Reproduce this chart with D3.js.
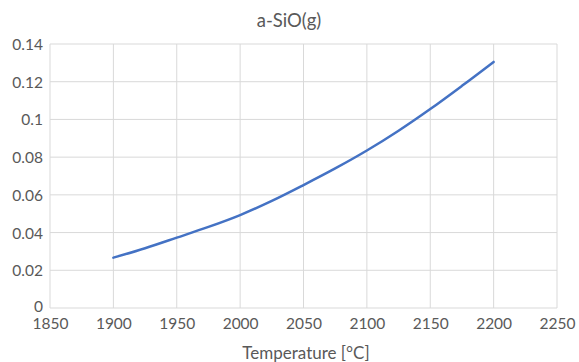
<!DOCTYPE html>
<html>
<head>
    <meta charset="utf-8" />
    <script src="https://cdn.jsdelivr.net/npm/d3@7"></script>
    <style>
        html, body { margin: 0; padding: 0; background: #fff; }
        text { font-family: Lato, "Open Sans", sans-serif; fill: #595959; }
    </style>
</head>
<body>
    <div id="svg-canvas"></div>
    <script>
        var temps = [1900, 1925, 1950, 1975, 2000, 2025, 2050, 2075, 2100, 2125, 2150, 2175, 2200];
        var pressure = [0.0267, 0.0317, 0.0373, 0.0430, 0.0493, 0.0568, 0.0652, 0.0740, 0.0835, 0.0940, 0.1055, 0.1178, 0.1305];
        var xTicks = [1850, 1900, 1950, 2000, 2050, 2100, 2150, 2200, 2250];
        var yTicks = [0, 0.02, 0.04, 0.06, 0.08, 0.1, 0.12, 0.14];

        var W = 579, H = 362;
        var margin = { left: 50, right: 22, top: 44, bottom: 54 };

        var svg = d3.select('#svg-canvas').append('svg')
            .attr('width', W)
            .attr('height', H);

        var x = d3.scaleLinear().domain([1850, 2250]).range([margin.left, W - margin.right]);
        var y = d3.scaleLinear().domain([0, 0.14]).range([H - margin.bottom, margin.top]);

        // grid
        svg.append('g')
            .selectAll('line.h')
            .data(yTicks)
            .enter().append('line')
            .attr('x1', x(1850)).attr('x2', x(2250))
            .attr('y1', d => y(d)).attr('y2', d => y(d))
            .attr('stroke', '#d9d9d9').attr('stroke-width', 1);

        svg.append('g')
            .selectAll('line.v')
            .data(xTicks)
            .enter().append('line')
            .attr('x1', d => x(d)).attr('x2', d => x(d))
            .attr('y1', y(0)).attr('y2', y(0.14))
            .attr('stroke', '#d9d9d9').attr('stroke-width', 1);

        var axisX = svg.append('g')
            .attr('transform', `translate(0, ${y(0)})`)
            .call(d3.axisBottom(x).tickValues(xTicks).tickSize(0).tickPadding(12).tickFormat(d3.format('d')));

        var axisY = svg.append('g')
            .attr('transform', `translate(${x(1850)}, 0)`)
            .call(d3.axisLeft(y).tickValues(yTicks).tickSize(0).tickPadding(7).tickFormat(d => d === 0 ? '0' : String(+d.toFixed(2))));

        [axisX, axisY].forEach(function (a) {
            a.select('.domain').remove();
            a.selectAll('text').style('font-size', '15.5px').attr('fill', '#595959');
        });
        axisX.selectAll('text').attr('dy', '0.6em');
        axisY.selectAll('text').attr('dy', '0.35em');
        axisY.selectAll('.tick').filter(d => d === 0).select('text').attr('dy', '0.2em');

        var line = d3.line()
            .x((d, i) => x(temps[i]))
            .y(d => y(d))
            .curve(d3.curveMonotoneX);

        svg.append('path')
            .datum(pressure)
            .attr('d', line)
            .attr('fill', 'none')
            .attr('stroke', '#4472c4')
            .attr('stroke-width', 2.5)
            .attr('stroke-linecap', 'round');

        svg.append('text')
            .attr('x', 289).attr('y', 27)
            .attr('text-anchor', 'middle')
            .style('font-size', '18.5px')
            .text('a-SiO(g)');

        svg.append('text')
            .attr('x', 306).attr('y', 359)
            .attr('text-anchor', 'middle')
            .style('font-size', '17px')
            .text('Temperature [°C]');
    </script>
</body>
</html>
